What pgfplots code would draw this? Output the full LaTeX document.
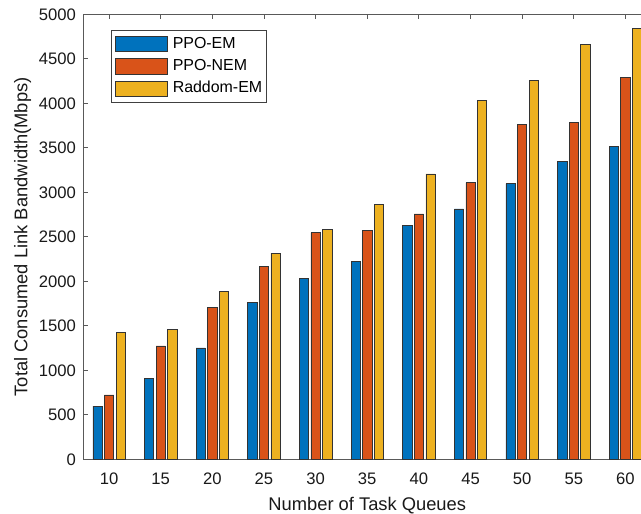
\documentclass[border=0pt]{standalone}
\usepackage{pgfplots}
\pgfplotsset{compat=1.18}
\usepackage{fontspec}
\setmainfont{Liberation Sans}
\definecolor{mblue}{rgb}{0,0.447,0.741}
\definecolor{mred}{rgb}{0.85,0.325,0.098}
\definecolor{myellow}{rgb}{0.929,0.694,0.125}
\begin{document}
\begin{tikzpicture}
\useasboundingbox (-83.3bp,-54.7bp) rectangle (557.7bp,459.3bp);
\clip (-83.3bp,-54.7bp) rectangle (557.7bp,459.3bp);
\begin{axis}[
 at={(0,0)}, anchor=south west,
 scale only axis, width=567.9bp, height=445bp,
 xmin=7.5, xmax=62.5, ymin=0, ymax=5000,
 ybar, bar width=9.3bp,
 xtick={10,15,...,60}, ytick={0,500,...,5000},
 tick align=inside, tick pos=both, major tick length=5bp,
 axis line style={black!65, line width=0.8bp},
 every tick/.style={black!65, line width=0.8bp},
 tick label style={font=\fontsize{16.7}{20}\selectfont, black!90},
 /pgf/number format/assume math mode=true,
 /pgf/number format/1000 sep={},
 xticklabel style={yshift=-10bp},
 yticklabel style={xshift=-4bp},
 xlabel={Number of Task Queues},
 ylabel={Total Consumed Link Bandwidth(Mbps)},
 every axis x label/.style={at={(axis description cs:0.5,0)}, anchor=base, yshift=-50.7bp, font=\fontsize{18.4}{22}\selectfont, black!90},
 every axis y label/.style={at={(axis description cs:0,0.5)}, xshift=-56bp, rotate=90, anchor=base, font=\fontsize{18.4}{22}\selectfont, black!90},
 legend style={at={(axis description cs:0.048,0.964)}, anchor=north west, draw=black!75, line width=0.8bp, font=\fontsize{16}{19}\selectfont, inner xsep=4bp, inner ysep=5bp, row sep=6bp, column sep=5bp, nodes={inner sep=0pt, text height=12bp, text depth=3.5bp}, legend cell align=left},
 every axis plot post/.append style={legend image code/.code={\draw[#1, line width=0.8bp] (0bp,-7.8bp) rectangle (52bp,7.8bp);}},
]
\addplot[fill=mblue, draw=black!80, line width=0.6bp, bar shift=-11.6bp] coordinates {
 (10,597) (15,911) (20,1251) (25,1763) (30,2033) (35,2223) (40,2630) (45,2814) (50,3097) (55,3344) (60,3520)};
\addplot[fill=mred, draw=black!80, line width=0.6bp, bar shift=0bp] coordinates {
 (10,724) (15,1274) (20,1707) (25,2163) (30,2548) (35,2571) (40,2758) (45,3109) (50,3762) (55,3785) (60,4289)};
\addplot[fill=myellow, draw=black!80, line width=0.6bp, bar shift=11.6bp] coordinates {
 (10,1427) (15,1461) (20,1883) (25,2317) (30,2582) (35,2862) (40,3206) (45,4036) (50,4256) (55,4664) (60,4839)};
\legend{PPO-EM, PPO-NEM, Raddom-EM}
\end{axis}
\end{tikzpicture}
\end{document}
